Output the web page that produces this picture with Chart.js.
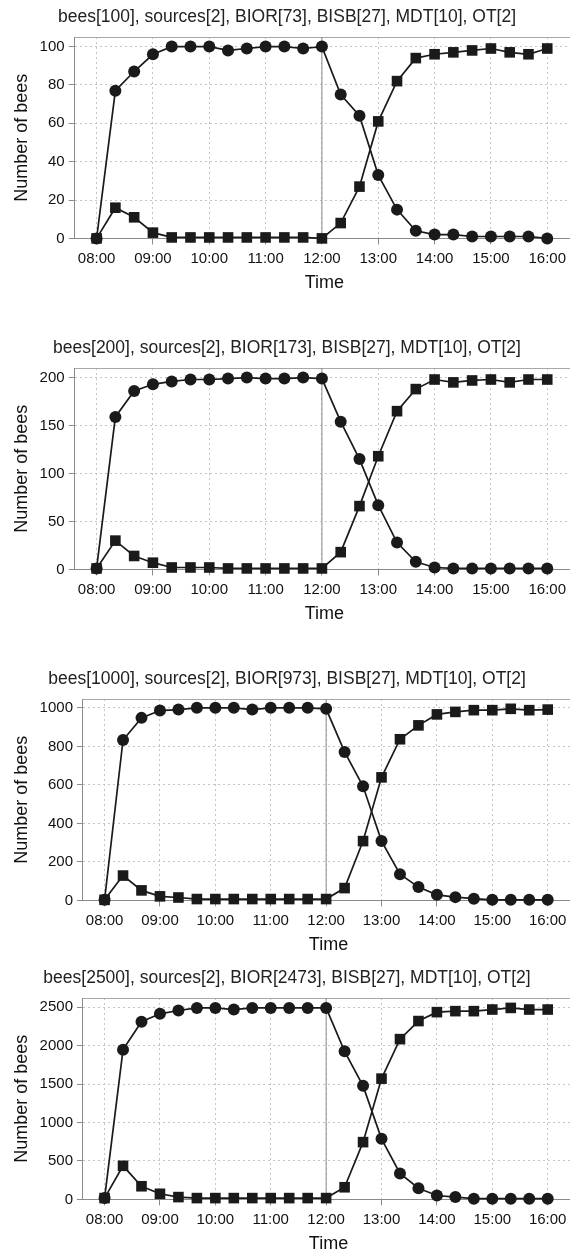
<!DOCTYPE html>
<html>
<head>
<meta charset="utf-8">
<script src="https://cdn.jsdelivr.net/npm/chart.js@4"></script>
<style>
  body { margin: 0; background: #fff; overflow: hidden; width: 570px; height: 1250px; position: relative; }
  canvas { position: absolute; left: 0; }
</style>
</head>
<body>
<canvas id="c1" width="600" height="298" style="top:0px"></canvas>
<canvas id="c2" width="600" height="298" style="top:331px"></canvas>
<canvas id="c3" width="600" height="298" style="top:662px"></canvas>
<canvas id="c4" width="600" height="298" style="top:961px"></canvas>
<script>
// sample times, every 20 minutes
var times = ['08:00','08:20','08:40','09:00','09:20','09:40','10:00','10:20','10:40',
             '11:00','11:20','11:40','12:00','12:20','12:40','13:00','13:20','13:40',
             '14:00','14:20','14:40','15:00','15:20','15:40','16:00'];
var hourTicks = ['08:00','09:00','10:00','11:00','12:00','13:00','14:00','15:00','16:00'];
var markerTime = '12:00'; // the vertical line

var titles = [
  'bees[100], sources[2], BIOR[73], BISB[27], MDT[10], OT[2]',
  'bees[200], sources[2], BIOR[173], BISB[27], MDT[10], OT[2]',
  'bees[1000], sources[2], BIOR[973], BISB[27], MDT[10], OT[2]',
  'bees[2500], sources[2], BIOR[2473], BISB[27], MDT[10], OT[2]'
];

// circles
var circles100  = [0, 77, 87, 96, 100, 100, 100, 98, 99, 100, 100, 99, 100, 75, 64, 33, 15, 4, 2, 2, 1, 1, 1, 1, 0];
var circles200  = [1, 159, 186, 193, 196, 198, 198, 199, 200, 199, 199, 200, 199, 154, 115, 67, 28, 8, 2, 1, 1, 1, 1, 1, 1];
var circles1000 = [3, 833, 948, 986, 991, 1000, 1000, 1000, 991, 1000, 1000, 1000, 995, 771, 593, 308, 136, 69, 29, 17, 9, 3, 3, 3, 3];
var circles2500 = [17, 1948, 2312, 2414, 2457, 2491, 2491, 2470, 2491, 2491, 2491, 2491, 2491, 1926, 1477, 788, 338, 146, 51, 30, 9, 9, 9, 9, 9];

// squares
var squares100  = [0, 16, 11, 3, 0.5, 0.5, 0.5, 0.5, 0.5, 0.5, 0.5, 0.5, 0, 8, 27, 61, 82, 94, 96, 97, 98, 99, 97, 96, 99];
var squares200  = [1, 30, 14, 7, 2, 2, 2, 1, 1, 1, 1, 1, 1, 18, 66, 118, 165, 188, 198, 195, 197, 198, 195, 198, 198];
var squares1000 = [3, 129, 52, 21, 15, 7, 7, 7, 7, 7, 7, 7, 7, 64, 308, 639, 837, 909, 966, 979, 988, 988, 995, 988, 991];
var squares2500 = [17, 437, 171, 73, 30, 17, 17, 17, 17, 17, 17, 17, 17, 158, 745, 1571, 2085, 2320, 2436, 2449, 2449, 2470, 2491, 2470, 2470];

// y axes
var yMax = [105, 210, 1046, 2620];
var yTicks100  = [0, 20, 40, 60, 80, 100];
var yTicks200  = [0, 50, 100, 150, 200];
var yTicks1000 = [0, 200, 400, 600, 800, 1000];
var yTicks2500 = [0, 500, 1000, 1500, 2000, 2500];

var xMin = 7.61, xMax = 16.475;
var font = "'Liberation Sans', Arial, sans-serif";
var ink = '#1a1a1a';
var axisGrey = '#8a8a8a';

function toHours(t) {
  var p = t.split(':');
  return parseInt(p[0]) + parseInt(p[1]) / 60;
}

function pad2(n) { return (n < 10 ? '0' : '') + n; }

function points(vals) {
  return vals.map(function (v, i) { return { x: toHours(times[i]), y: v }; });
}

function noSidePadding(scale) {
  scale.paddingRight = 0;
}

function makeChart(id, k, circleVals, squareVals, yTicks) {
  var ctx = document.getElementById(id).getContext('2d');
  var mx = toHours(markerTime);
  return new Chart(ctx, {
    type: 'line',
    data: {
      datasets: [{
        data: points(circleVals),
        borderColor: ink,
        backgroundColor: ink,
        borderWidth: 1.7,
        pointStyle: 'circle',
        pointRadius: 6,
        pointBorderWidth: 0,
        clip: false,
        order: 1
      }, {
        data: points(squareVals),
        borderColor: ink,
        backgroundColor: ink,
        borderWidth: 1.7,
        pointStyle: 'rect',
        pointRadius: 7.5,
        pointBorderWidth: 0,
        clip: false,
        order: 2
      }, {
        // marker line at 12:00
        data: [{ x: mx, y: 0 }, { x: mx, y: yMax[k] }],
        borderColor: '#8c8c8c',
        borderWidth: 1,
        pointRadius: 0,
        order: 3
      }]
    },
    options: {
      responsive: false,
      animation: false,
      events: [],
      // canvas runs past the page edge so the plot's right side is cut off
      layout: { padding: { left: 0, top: 0, bottom: 0, right: 26 } },
      plugins: {
        legend: { display: false },
        tooltip: { enabled: false },
        title: {
          display: true,
          text: titles[k],
          color: '#222',
          font: { family: font, size: 17.5, weight: 'normal' },
          padding: { top: 7, bottom: 9 }
        }
      },
      scales: {
        x: {
          type: 'linear',
          position: 'bottom',
          min: xMin,
          max: xMax,
          afterBuildTicks: function (scale) {
            scale.ticks = hourTicks.map(function (t) { return { value: toHours(t) }; });
          },
          afterFit: noSidePadding,
          grid: { color: '#c4c4c4', lineWidth: 1, tickLength: 6, tickColor: axisGrey },
          border: { color: axisGrey, width: 1, dash: [2, 3] },
          ticks: {
            padding: 5,
            maxRotation: 0,
            color: '#111',
            font: { family: font, size: 15 },
            callback: function (v) { return pad2(Math.round(v)) + ':00'; }
          },
          title: {
            display: true,
            text: 'Time',
            color: '#111',
            font: { family: font, size: 18 },
            padding: { top: 0, bottom: 4 }
          }
        },
        x2: {
          type: 'linear',
          position: 'top',
          min: xMin,
          max: xMax,
          afterFit: noSidePadding,
          grid: { display: false, drawTicks: false },
          border: { display: true, color: '#a8a8a8', width: 1 },
          ticks: { display: false }
        },
        y: {
          min: 0,
          max: yMax[k],
          afterBuildTicks: function (scale) {
            scale.ticks = yTicks.map(function (v) { return { value: v }; });
          },
          grid: { color: '#c4c4c4', lineWidth: 1, tickLength: 6, tickColor: axisGrey },
          border: { color: axisGrey, width: 1, dash: [2, 3] },
          ticks: {
            padding: 4,
            color: '#111',
            font: { family: font, size: 15 },
            callback: function (v) { return String(v); }
          },
          title: {
            display: true,
            text: 'Number of bees',
            color: '#111',
            font: { family: font, size: 18 },
            padding: { top: 11, bottom: 3 }
          }
        }
      }
    }
  });
}

makeChart('c1', 0, circles100, squares100, yTicks100);
makeChart('c2', 1, circles200, squares200, yTicks200);
makeChart('c3', 2, circles1000, squares1000, yTicks1000);
makeChart('c4', 3, circles2500, squares2500, yTicks2500);
</script>
</body>
</html>
